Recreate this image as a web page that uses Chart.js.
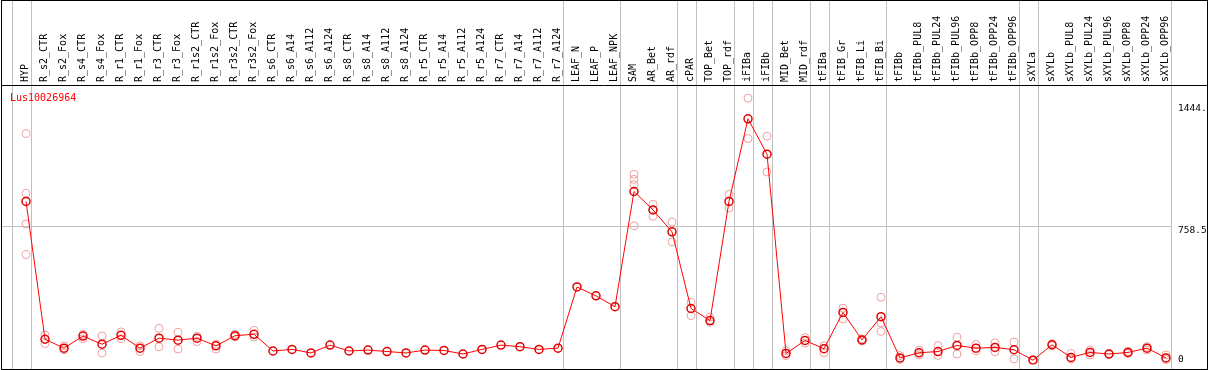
<!DOCTYPE html>
<html>
<head>
<meta charset="utf-8">
<script src="https://cdn.jsdelivr.net/npm/chart.js@4.4.1/dist/chart.umd.min.js"></script>
<style>
  html, body { margin: 0; padding: 0; background: #fff; }
  canvas { display: block; }
</style>
</head>
<body>
<canvas id="exprChart" width="1209" height="370"></canvas>
<script>
const geneId = "Lus10026964";

const categories = [
    "HYP",
    "R_s2_CTR", "R_s2_Fox", "R_s4_CTR", "R_s4_Fox", "R_r1_CTR", "R_r1_Fox",
    "R_r3_CTR", "R_r3_Fox", "R_r1s2_CTR", "R_r1s2_Fox", "R_r3s2_CTR", "R_r3s2_Fox",
    "R_s6_CTR", "R_s6_A14", "R_s6_A112", "R_s6_A124", "R_s8_CTR", "R_s8_A14",
    "R_s8_A112", "R_s8_A124", "R_r5_CTR", "R_r5_A14", "R_r5_A112", "R_r5_A124",
    "R_r7_CTR", "R_r7_A14", "R_r7_A112", "R_r7_A124",
    "LEAF_N", "LEAF_P", "LEAF_NPK",
    "SAM", "AR_Bet", "AR_rdf", "cPAR", "TOP_Bet", "TOP_rdf", "iFIBa", "iFIBb",
    "MID_Bet", "MID_rdf", "tFIBa", "tFIB_Gr", "tFIB_Li", "tFIB_Bi",
    "tFIBb", "tFIBb_PUL8", "tFIBb_PUL24", "tFIBb_PUL96", "tFIBb_OPP8", "tFIBb_OPP24", "tFIBb_OPP96",
    "sXYLa", "sXYLb", "sXYLb_PUL8", "sXYLb_PUL24", "sXYLb_PUL96", "sXYLb_OPP8", "sXYLb_OPP24", "sXYLb_OPP96"
];

// mean expression per sample
const means = [
    895,
    120, 70, 138, 92, 142, 70, 126, 115, 126, 83, 140, 148,
    54, 63, 43, 87, 54, 59, 51, 43, 59, 57, 37, 63, 87, 78, 63, 70,
    414, 364, 303,
    951, 847, 724, 293, 225, 895, 1360, 1161, 40, 113, 67, 271, 116, 247,
    15, 44, 51, 85, 70, 74, 61,
    2, 89, 18, 46, 37, 46, 70, 15
];

// individual replicates per sample
const replicates = [
    [1277, 941, 768, 596],
    [144, 96], [83, 61], [148, 123], [138, 43], [161, 123], [83, 51],
    [181, 78], [159, 65], [137, 107], [92, 65], [148, 133], [170, 133],
    [], [], [], [], [], [], [], [], [], [], [], [], [], [], [], [],
    [], [], [],
    [1048, 1019, 989, 758], [879, 847, 812], [779, 668], [328, 253], [244, 216], [936, 858],
    [1476, 1249], [1262, 1061], [55, 28], [129, 98], [83, 44], [295, 234], [122, 110], [356, 212, 164],
    [28, 6], [59, 32], [85, 29], [131, 37], [90, 55], [100, 50], [104, 9],
    [6, 0], [95, 83], [40, 9], [59, 32], [40, 34], [52, 40], [79, 59], [32, 6]
];

// group separators: drawn just after these sample indices
const separators = [-1, 0, 28, 31, 34, 35, 37, 38, 39, 41, 42, 45, 52, 53, 60];

const yTicks = [0, 758.5, 1444];
const yTickLabels = ["0", "758.5", "1444."];

const repPoints = [];
replicates.forEach((reps, i) => {
    reps.forEach(v => repPoints.push({ x: categories[i], y: v }));
});

const monoFont = "'DejaVu Sans Mono', monospace";

const decorations = {
    id: "decorations",
    beforeDatasetsDraw(chart) {
        const { ctx, scales: { x, y } } = chart;
        const step = x.getPixelForValue(1) - x.getPixelForValue(0);
        ctx.save();
        ctx.strokeStyle = "#c0c0c0";
        ctx.lineWidth = 1;
        let lastX = 0;
        separators.forEach(i => {
            const px = Math.round(x.getPixelForValue(i) + step * 0.24) + 0.5;
            lastX = px;
            ctx.beginPath();
            ctx.moveTo(px, 0);
            ctx.lineTo(px, 370);
            ctx.stroke();
        });
        const gy = Math.round(y.getPixelForValue(yTicks[1])) + 0.5;
        ctx.beginPath();
        ctx.moveTo(1, gy);
        ctx.lineTo(lastX, gy);
        ctx.stroke();
        ctx.restore();
    },
    afterDraw(chart) {
        const { ctx, scales: { y }, chartArea } = chart;
        ctx.save();
        // frame
        ctx.strokeStyle = "#000";
        ctx.lineWidth = 1;
        ctx.strokeRect(1.5, 0.5, 1206, 369);
        ctx.beginPath();
        ctx.moveTo(1, chartArea.top + 0.5);
        ctx.lineTo(1208, chartArea.top + 0.5);
        ctx.stroke();

        ctx.font = "9.5px " + monoFont;
        ctx.fillStyle = "#000";
        ctx.textAlign = "left";
        yTicks.forEach((v, i) => {
            const py = Math.round(y.getPixelForValue(v));
            if (py + 8 > chartArea.bottom) {
                ctx.textBaseline = "alphabetic";
                ctx.fillText(yTickLabels[i], 1178, py + 1);
            } else {
                ctx.textBaseline = "top";
                ctx.fillText(yTickLabels[i], 1178, py);
            }
        });

        ctx.font = "10px " + monoFont;
        ctx.fillStyle = "#ff0000";
        ctx.textBaseline = "top";
        ctx.fillText(geneId, 10, chartArea.top + 8);
        ctx.restore();
    }
};

new Chart(document.getElementById("exprChart"), {
    type: "line",
    data: {
        labels: categories,
        datasets: [
            {
                label: "mean",
                data: means,
                order: 0,
                borderColor: "#ff0000",
                borderWidth: 1,
                tension: 0,
                pointRadius: 4,
                pointBorderWidth: 1.5,
                pointBorderColor: "#e00000",
                pointBackgroundColor: "rgba(0,0,0,0)",
            },
            {
                label: "replicates",
                data: repPoints,
                order: 1,
                showLine: false,
                pointRadius: 4,
                pointBorderWidth: 1,
                pointBorderColor: "#f0a0a0",
                pointBackgroundColor: "rgba(0,0,0,0)",
            },
        ],
    },
    options: {
        responsive: false,
        animation: false,
        layout: { padding: { left: 16.5, right: 33.5, top: 0, bottom: 1 } },
        plugins: {
            legend: { display: false },
            tooltip: { enabled: false },
        },
        scales: {
            x: {
                position: "top",
                offset: true,
                grid: { display: false, drawTicks: false },
                border: { display: false },
                ticks: {
                    autoSkip: false,
                    minRotation: 90,
                    maxRotation: 90,
                    padding: 3,
                    labelOffset: 11,
                    color: "#000",
                    font: { family: monoFont, size: 10 },
                },
                afterFit: (scale) => { scale.height = 85; },
            },
            y: {
                display: false,
                min: -22,
                max: 1550,
            },
        },
    },
    plugins: [decorations],
});
</script>
</body>
</html>
